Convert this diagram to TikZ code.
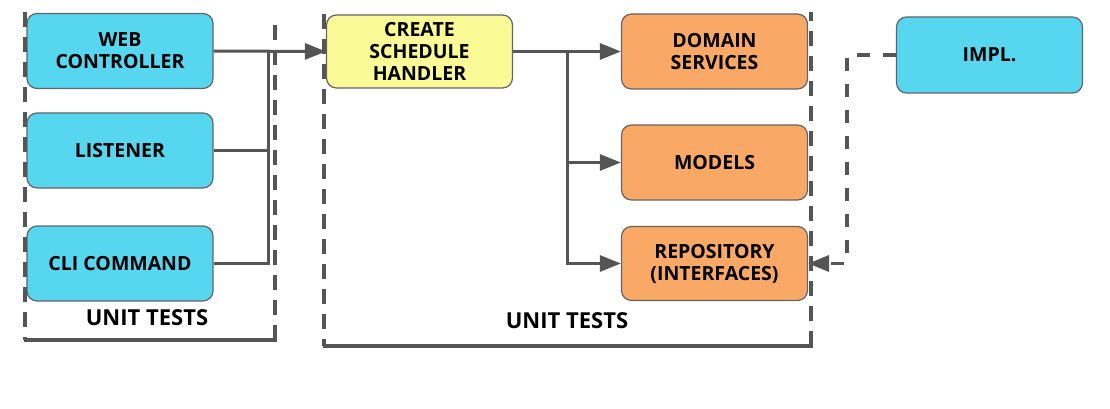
\documentclass[tikz,border=0pt]{standalone}
\usepackage{fontspec}
\setmainfont{Open Sans}
\usetikzlibrary{arrows.meta}
\definecolor{cyanbox}{RGB}{87,214,240}
\definecolor{orangebox}{RGB}{249,168,102}
\definecolor{yellowbox}{RGB}{250,250,150}
\definecolor{linegray}{RGB}{85,85,85}
\definecolor{bordergray}{RGB}{100,100,100}
\tikzset{
  box/.style={draw=bordergray, line width=1.2pt, rounded corners=10pt, minimum width=186pt, minimum height=75pt, align=center, inner sep=0pt, font=\fontsize{19.5}{22}\selectfont\bfseries, text=black},
  conn/.style={draw=linegray, line width=3pt, -{Triangle[length=21pt,width=16pt]}},
  plainconn/.style={draw=linegray, line width=3pt},
  dashconn/.style={draw=linegray, line width=3.5pt, dash pattern=on 13pt off 13pt, -{Triangle[length=21pt,width=16pt]}},
  cont/.style={draw=linegray, line width=4pt, dash pattern=on 15pt off 10pt},
  contsolid/.style={draw=linegray, line width=3.5pt},
  unitlabel/.style={font=\fontsize{22}{25}\selectfont\bfseries, text=black, inner sep=0pt}
}
\begin{document}
\begin{tikzpicture}[x=1pt,y=-1pt]
\useasboundingbox (0,0) rectangle (1110,409);
% boxes
\node[box, fill=cyanbox] (web) at (120,51) {WEB\\CONTROLLER};
\node[box, fill=cyanbox] (listener) at (120,150.5) {LISTENER};
\node[box, fill=cyanbox] (cli) at (120,263.5) {CLI COMMAND};
\node[box, fill=yellowbox, minimum height=73pt] (create) at (419.5,51.5) {CREATE\\SCHEDULE\\HANDLER};
\node[box, fill=orangebox] (domain) at (714.5,51.5) {DOMAIN\\SERVICES};
\node[box, fill=orangebox] (models) at (714.5,162.5) {MODELS};
\node[box, fill=orangebox, minimum height=74pt] (repo) at (714.5,263.5) {REPOSITORY\\(INTERFACES)};
\node[box, fill=cyanbox, minimum height=76pt] (impl) at (989.5,55) {IMPL.};
% containers
\draw[cont] (25,12) -- (25,340);
\draw[contsolid] (23.5,340) -- (276.5,340);
\draw[cont] (275,340) -- (275,22);
\draw[cont] (324,14) -- (324,346);
\draw[contsolid] (322.5,346) -- (812.5,346);
\draw[cont] (811,346) -- (811,12);
\node[unitlabel] (ut1) at (147,318) {UNIT TESTS};
\node[unitlabel] (ut2) at (567,321) {UNIT TESTS};
% connectors
\coordinate (bus1) at (268,51);
\coordinate (bus2) at (567,51.5);
\coordinate (c3) at (847,55);
\draw[conn] (web.east) -- (create.west);
\draw[plainconn] (listener.east) -- (listener.east -| bus1);
\draw[plainconn] (cli.east) -| (bus1);
\draw[conn] (create.east) -- (domain.west);
\draw[conn] (bus2) |- (models.west);
\draw[conn] (bus2) |- (repo.west);
\draw[dashconn] (impl.west) -- (c3) |- (repo.east);
\end{tikzpicture}
\end{document}
